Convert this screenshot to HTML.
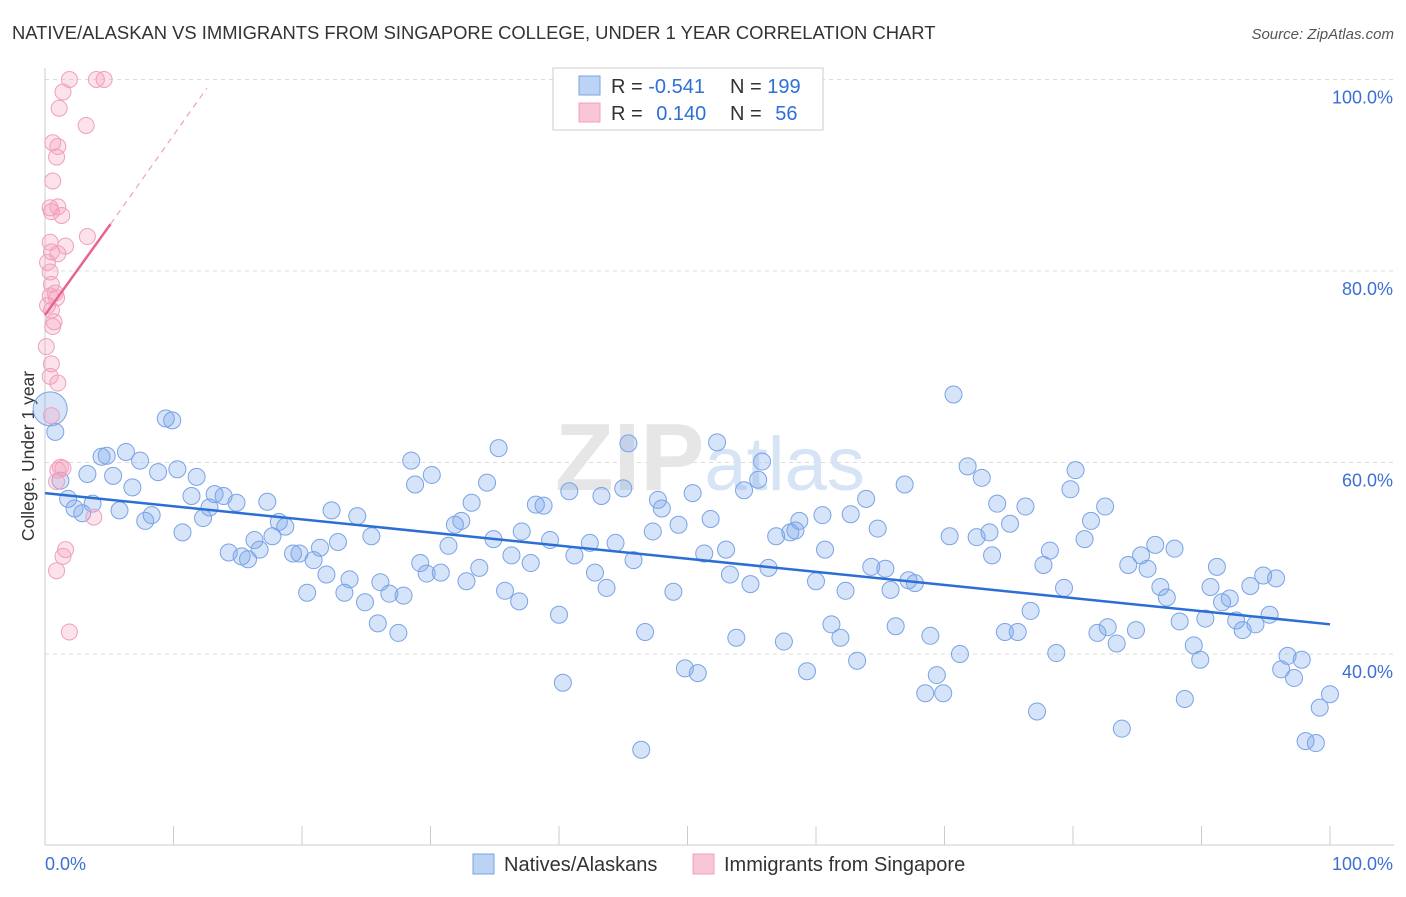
<!DOCTYPE html>
<html><head><meta charset="utf-8"><style>
body{margin:0;background:#fff;font-family:"Liberation Sans",sans-serif}
svg text{font-family:"Liberation Sans",sans-serif}
</style></head><body>
<svg id="chart" width="1406" height="892" xmlns="http://www.w3.org/2000/svg">
<text x="12" y="39" font-size="18.4" fill="#333">NATIVE/ALASKAN VS IMMIGRANTS FROM SINGAPORE COLLEGE, UNDER 1 YEAR CORRELATION CHART</text>
<text x="1394" y="39" font-size="15" fill="#555" text-anchor="end" font-style="italic">Source: ZipAtlas.com</text>
<g id="grid"></g>
<text x="555" y="490" font-size="96" fill="#e6e6e6" font-family="Liberation Serif" font-weight="bold">ZIP<tspan fill="#d6e4f6" font-family="Liberation Sans" font-weight="normal" font-size="76">atlas</tspan></text>
<g id="ylabels"></g>
<g id="xaxis"></g>
<text transform="translate(34,456) rotate(-90)" font-size="17.5" fill="#333" text-anchor="middle">College, Under 1 year</text>
<g id="pts"></g>
<g id="trends"></g>
<g>
<rect x="553" y="68" width="270" height="62" fill="#fff" stroke="#ccc"/>
<rect x="579" y="76" width="21" height="19" fill="#bcd3f5" stroke="#7aa3e5"/>
<rect x="579" y="103" width="21" height="19" fill="#f9c6d6" stroke="#f0a0bc"/>
<text x="611" y="93" font-size="20" fill="#333">R = <tspan fill="#2f6fd6">-0.541</tspan></text>
<text x="730" y="93" font-size="20" fill="#333">N = <tspan fill="#2f6fd6">199</tspan></text>
<text x="611" y="120" font-size="20" fill="#333">R = <tspan fill="#2f6fd6" dx="8">0.140</tspan></text>
<text x="730" y="120" font-size="20" fill="#333">N = <tspan fill="#2f6fd6" dx="8">56</tspan></text>
</g>
<g>
<rect x="473" y="854" width="21" height="20" fill="#bcd3f5" stroke="#7aa3e5"/>
<text x="504" y="871" font-size="20" fill="#333">Natives/Alaskans</text>
<rect x="693" y="854" width="21" height="20" fill="#f9c6d6" stroke="#f0a0bc"/>
<text x="724" y="871" font-size="20" fill="#333">Immigrants from Singapore</text>
</g>
</svg>
<script>
const yTicks=[100,80,60,40];
const xTickLabels=["0.0%","100.0%"];
const blueX=[1.8,2.3,2.9,3.3,3.7,4.4,4.8,5.3,5.8,6.3,6.8,7.4,7.8,8.3,8.8,9.4,9.9,10.3,10.7,11.4,11.8,12.3,12.8,13.2,13.9,14.3,14.9,15.3,15.8,16.3,16.7,17.3,17.7,18.2,18.7,19.3,19.8,20.4,20.9,21.4,21.9,22.3,22.8,23.3,23.7,24.3,24.9,25.4,25.9,26.1,26.8,27.5,27.9,28.5,28.8,29.2,29.7,30.1,30.8,31.4,31.9,32.4,32.8,33.2,33.8,34.4,34.9,35.3,35.8,36.3,36.9,37.1,37.8,38.2,38.8,39.3,40.0,40.3,40.8,41.2,42.4,42.8,43.3,43.7,44.4,45.0,45.4,45.8,46.4,46.7,47.3,47.7,48.0,48.9,49.3,49.8,50.4,50.8,51.3,51.8,52.3,53.0,53.3,53.8,54.4,54.9,55.5,55.8,56.3,56.9,57.5,58.0,58.4,58.7,59.3,60.0,60.5,60.7,61.2,61.9,62.3,62.7,63.2,63.9,64.3,64.8,65.4,65.8,66.2,66.9,67.2,67.7,68.5,68.9,69.4,69.9,70.4,70.7,71.2,71.8,72.5,72.9,73.5,73.7,74.1,74.7,75.1,75.7,76.3,76.7,77.2,77.7,78.2,78.7,79.3,79.8,80.2,80.9,81.4,81.9,82.5,82.7,83.4,83.8,84.3,84.9,85.3,85.8,86.4,86.8,87.3,87.9,88.3,88.7,89.4,89.9,90.3,90.7,91.2,91.6,92.2,92.7,93.2,93.8,94.2,94.8,95.3,95.8,96.2,96.7,97.2,97.8,98.1,98.9,99.2,100,0.8,1.2];
const blueY=[56.2,55.2,54.7,58.8,55.7,60.6,60.7,58.6,55.0,61.1,57.4,60.2,53.9,54.5,59.0,64.6,64.4,59.3,52.7,56.5,58.5,54.2,55.3,56.7,56.5,50.6,55.8,50.2,49.9,51.9,50.9,55.9,52.3,53.8,53.3,50.5,50.5,46.4,49.8,51.1,48.3,55.0,51.7,46.4,47.8,54.4,45.4,52.3,43.2,47.5,46.3,42.2,46.1,60.2,57.7,49.5,48.4,58.7,48.5,51.3,53.5,53.9,47.6,55.8,49.0,57.9,52.0,61.5,46.6,50.3,45.5,52.8,49.5,55.6,55.5,51.9,44.1,37.0,57.0,50.3,51.6,48.5,56.5,46.9,51.6,57.3,62.0,49.8,30.0,42.3,52.8,56.1,55.2,46.5,53.5,38.5,56.8,38.0,50.5,54.1,62.1,50.9,48.3,41.7,57.1,47.3,58.2,60.1,49.0,52.3,41.3,52.7,52.9,53.9,38.2,47.6,54.5,50.9,43.1,41.7,46.6,54.6,39.3,56.2,49.1,53.1,48.9,46.7,42.9,57.7,47.7,47.4,35.9,41.9,37.8,35.9,52.3,67.1,40.0,59.6,52.2,58.4,52.7,50.3,55.7,42.3,53.6,42.3,55.4,44.5,34.0,49.3,50.8,40.1,46.9,57.2,59.2,52.0,53.9,42.2,55.4,42.8,41.1,32.2,49.3,42.5,50.3,48.9,51.4,47.0,45.9,51.0,43.4,35.3,40.9,39.4,43.7,47.0,49.1,45.4,45.8,43.5,42.5,47.1,43.1,48.2,44.1,47.9,38.4,39.8,37.5,39.4,30.9,30.7,34.4,35.8,63.2,58.1];
const pinkX=[1.9,4.0,4.6,1.4,1.1,3.2,0.6,1.0,0.9,0.6,0.4,1.0,1.3,0.5,3.3,0.4,1.6,0.5,1.0,0.2,0.4,0.5,0.8,0.4,0.9,0.2,0.5,0.7,0.6,0.1,0.5,0.4,1.0,0.5,1.2,1.0,1.4,0.9,3.8,1.6,1.4,0.9,1.9];
const pinkY=[100,100,100,98.7,97.0,95.2,93.4,93.0,91.9,89.4,86.6,86.7,85.8,86.2,83.6,83.0,82.6,82.0,81.8,80.9,79.9,78.6,77.7,77.4,77.2,76.4,75.9,74.7,74.2,72.1,70.3,69.0,68.3,64.9,59.5,59.2,59.4,58.0,54.3,50.9,50.2,48.7,42.3];
const blueTrend=[[0,56.8],[100,43.1]];
const pinkTrendSolid=[[0,75.4],[5.1,84.9]];
const pinkTrendDash=[[5.1,84.9],[12.6,99.1]];
const bigBlue=[[0.4,65.6]];

const X=v=>45+v*12.85, Y=v=>79.5+(100-v)*9.575;
const NS="http://www.w3.org/2000/svg";
function mk(tag,at,parent){const e=document.createElementNS(NS,tag);for(const k in at)e.setAttribute(k,at[k]);document.getElementById(parent).appendChild(e);return e;}
yTicks.forEach(t=>{
 const l=mk('line',{x1:45,x2:1394,y1:Y(t),y2:Y(t),stroke:'#ddd','stroke-dasharray':'4,4'},'grid');
 
 
 const tx=mk('text',{x:1393,y:Y(t)+24,'font-size':18,fill:'#3b6fd4','text-anchor':'end'},'ylabels');
 tx.textContent=t.toFixed(1)+'%';
 
 
});
mk('line',{x1:45,x2:45,y1:68,y2:845,stroke:'#ccc'},'xaxis');
mk('line',{x1:45,x2:1394,y1:845,y2:845,stroke:'#ccc'},'xaxis');
for(let i=0;i<=10;i++){const t=mk('line',{x1:X(i*10),x2:X(i*10),y1:826,y2:845,stroke:'#ccc'},'xaxis');}
const xl0=mk('text',{x:45,y:870,'font-size':18,fill:'#3b6fd4'},'xaxis');xl0.textContent=xTickLabels[0];


const xl1=mk('text',{x:1393,y:870,'font-size':18,fill:'#3b6fd4','text-anchor':'end'},'xaxis');xl1.textContent=xTickLabels[1];


blueX.forEach((v,i)=>{const c=mk('circle',{cx:X(v),cy:Y(blueY[i]),r:8.5,fill:'rgba(120,165,235,0.3)',stroke:'#7aa3e5','stroke-width':1},'pts');
 
 });
bigBlue.forEach(p=>{const c=mk('circle',{cx:X(p[0]),cy:Y(p[1]),r:17,fill:'rgba(120,165,235,0.3)',stroke:'#7aa3e5'},'pts');
 
 });
pinkX.forEach((v,i)=>{const c=mk('circle',{cx:X(v),cy:Y(pinkY[i]),r:8,fill:'rgba(245,160,190,0.3)',stroke:'#f0a0bc','stroke-width':1},'pts');
 
 });
const bt=mk('line',{x1:X(blueTrend[0][0]),y1:Y(blueTrend[0][1]),x2:X(blueTrend[1][0]),y2:Y(blueTrend[1][1]),stroke:'#2c6fd4','stroke-width':2.5},'trends');


const pt=mk('line',{x1:X(pinkTrendSolid[0][0]),y1:Y(pinkTrendSolid[0][1]),x2:X(pinkTrendSolid[1][0]),y2:Y(pinkTrendSolid[1][1]),stroke:'#e8648f','stroke-width':2.5},'trends');


const pd=mk('line',{x1:X(pinkTrendDash[0][0]),y1:Y(pinkTrendDash[0][1]),x2:X(pinkTrendDash[1][0]),y2:Y(pinkTrendDash[1][1]),stroke:'#f0a0bc','stroke-width':1.2,'stroke-dasharray':'6,5'},'trends');


</script>
</body></html>
